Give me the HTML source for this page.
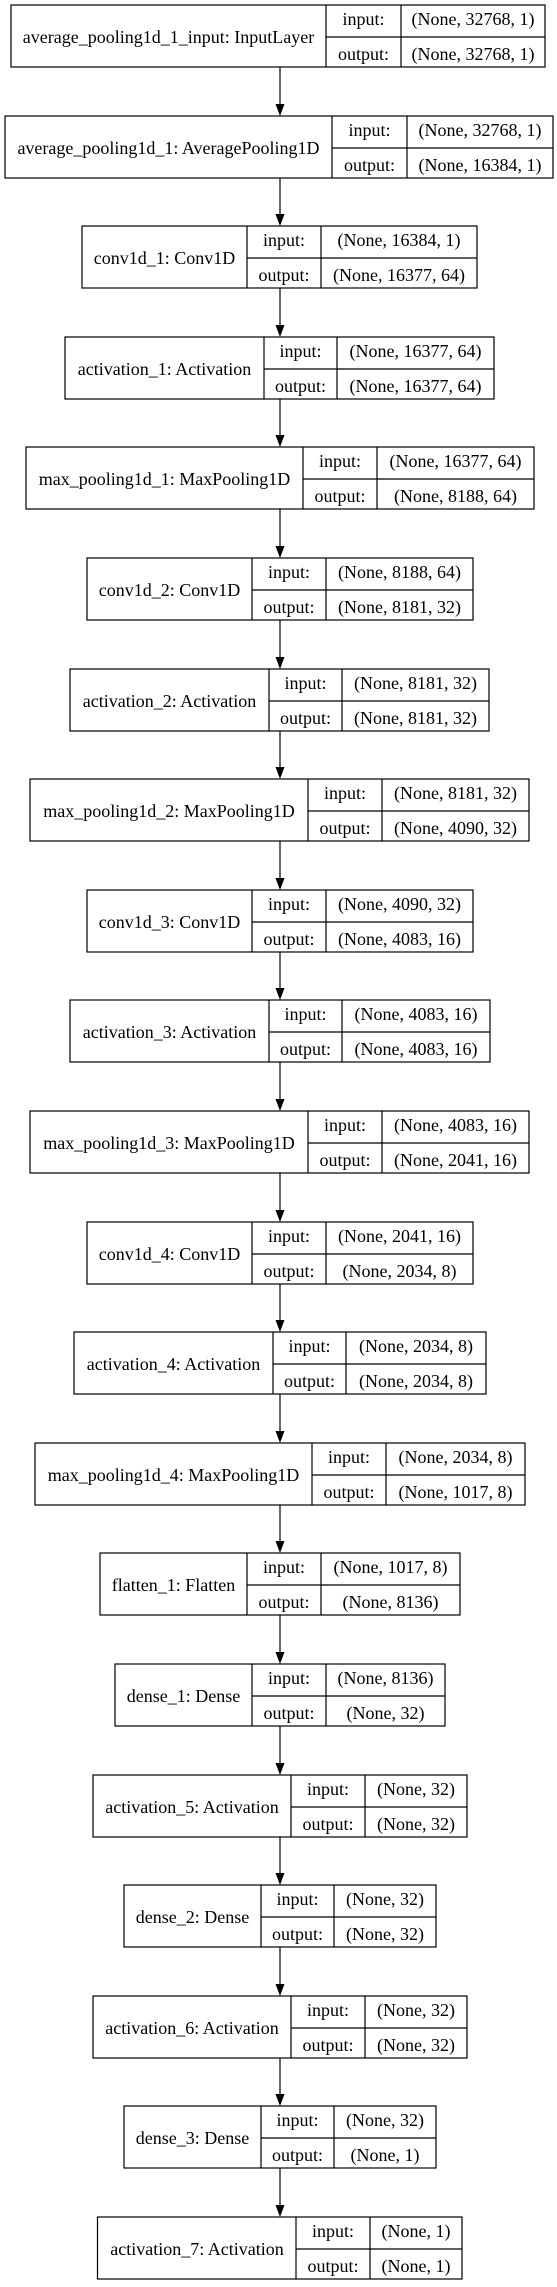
<!DOCTYPE html>
<html><head><meta charset="utf-8"><style>
html,body{margin:0;padding:0;background:#fff;}
svg{display:block;}
text{font-family:"Liberation Serif","DejaVu Serif",serif;font-size:18px;fill:#000;text-anchor:middle;}
.b{fill:#fff;stroke:#000;stroke-width:1.2;}
.l{stroke:#000;stroke-width:1.2;}
</style></head><body>
<svg width="557" height="2287" viewBox="0 0 557 2287" xmlns="http://www.w3.org/2000/svg">
<rect width="557" height="2287" fill="#fff"/>
<!-- arrows -->
<g class="l">
<line x1="280" y1="67" x2="280" y2="104"/><line x1="280" y1="178" x2="280" y2="214"/><line x1="280" y1="288" x2="280" y2="325"/><line x1="280" y1="399" x2="280" y2="435"/><line x1="280" y1="509" x2="280" y2="546"/><line x1="280" y1="620" x2="280" y2="657"/><line x1="280" y1="731" x2="280" y2="767"/><line x1="280" y1="841" x2="280" y2="878"/><line x1="280" y1="952" x2="280" y2="988"/><line x1="280" y1="1062" x2="280" y2="1099"/><line x1="280" y1="1173" x2="280" y2="1210"/><line x1="280" y1="1284" x2="280" y2="1320"/><line x1="280" y1="1394" x2="280" y2="1431"/><line x1="280" y1="1505" x2="280" y2="1541"/><line x1="280" y1="1615" x2="280" y2="1652"/><line x1="280" y1="1726" x2="280" y2="1763"/><line x1="280" y1="1837" x2="280" y2="1873"/><line x1="280" y1="1947" x2="280" y2="1984"/><line x1="280" y1="2058" x2="280" y2="2094"/><line x1="280" y1="2168" x2="280" y2="2205"/>
</g>
<g fill="#000">
<polygon points="275.5,104 284.5,104 280,116"/><polygon points="275.5,214 284.5,214 280,226"/><polygon points="275.5,325 284.5,325 280,337"/><polygon points="275.5,435 284.5,435 280,447"/><polygon points="275.5,546 284.5,546 280,558"/><polygon points="275.5,657 284.5,657 280,669"/><polygon points="275.5,767 284.5,767 280,779"/><polygon points="275.5,878 284.5,878 280,890"/><polygon points="275.5,988 284.5,988 280,1000"/><polygon points="275.5,1099 284.5,1099 280,1111"/><polygon points="275.5,1210 284.5,1210 280,1222"/><polygon points="275.5,1320 284.5,1320 280,1332"/><polygon points="275.5,1431 284.5,1431 280,1443"/><polygon points="275.5,1541 284.5,1541 280,1553"/><polygon points="275.5,1652 284.5,1652 280,1664"/><polygon points="275.5,1763 284.5,1763 280,1775"/><polygon points="275.5,1873 284.5,1873 280,1885"/><polygon points="275.5,1984 284.5,1984 280,1996"/><polygon points="275.5,2094 284.5,2094 280,2106"/><polygon points="275.5,2205 284.5,2205 280,2217"/>
</g>

<g transform="translate(0,5)"><rect class="b" x="11" y="0" width="534" height="62"/><line class="l" x1="326" y1="0" x2="326" y2="62"/><line class="l" x1="401" y1="0" x2="401" y2="62"/><line class="l" x1="326" y1="32" x2="545" y2="32"/>
<text x="168.5" y="38">average_pooling1d_1_input: InputLayer</text><text x="363.5" y="20">input:</text><text x="363.5" y="55">output:</text><text x="473" y="20">(None, 32768, 1)</text><text x="473" y="55">(None, 32768, 1)</text></g>

<g transform="translate(0,116)"><rect class="b" x="5" y="0" width="548" height="62"/><line class="l" x1="332" y1="0" x2="332" y2="62"/><line class="l" x1="407" y1="0" x2="407" y2="62"/><line class="l" x1="332" y1="32" x2="553" y2="32"/>
<text x="168.5" y="38">average_pooling1d_1: AveragePooling1D</text><text x="369.5" y="20">input:</text><text x="369.5" y="55">output:</text><text x="480" y="20">(None, 32768, 1)</text><text x="480" y="55">(None, 16384, 1)</text></g>

<g transform="translate(0,226)"><rect class="b" x="82" y="0" width="395" height="62"/><line class="l" x1="247" y1="0" x2="247" y2="62"/><line class="l" x1="321" y1="0" x2="321" y2="62"/><line class="l" x1="247" y1="32" x2="477" y2="32"/>
<text x="164.5" y="38">conv1d_1: Conv1D</text><text x="284" y="20">input:</text><text x="284" y="55">output:</text><text x="399" y="20">(None, 16384, 1)</text><text x="399" y="55">(None, 16377, 64)</text></g>

<g transform="translate(0,337)"><rect class="b" x="65" y="0" width="429" height="62"/><line class="l" x1="264" y1="0" x2="264" y2="62"/><line class="l" x1="337" y1="0" x2="337" y2="62"/><line class="l" x1="264" y1="32" x2="494" y2="32"/>
<text x="164.5" y="38">activation_1: Activation</text><text x="300.5" y="20">input:</text><text x="300.5" y="55">output:</text><text x="415.5" y="20">(None, 16377, 64)</text><text x="415.5" y="55">(None, 16377, 64)</text></g>

<g transform="translate(0,447)"><rect class="b" x="26" y="0" width="508" height="62"/><line class="l" x1="303" y1="0" x2="303" y2="62"/><line class="l" x1="377" y1="0" x2="377" y2="62"/><line class="l" x1="303" y1="32" x2="534" y2="32"/>
<text x="164.5" y="38">max_pooling1d_1: MaxPooling1D</text><text x="340" y="20">input:</text><text x="340" y="55">output:</text><text x="455.5" y="20">(None, 16377, 64)</text><text x="455.5" y="55">(None, 8188, 64)</text></g>

<g transform="translate(0,558)"><rect class="b" x="87" y="0" width="386" height="62"/><line class="l" x1="252" y1="0" x2="252" y2="62"/><line class="l" x1="326" y1="0" x2="326" y2="62"/><line class="l" x1="252" y1="32" x2="473" y2="32"/>
<text x="169.5" y="38">conv1d_2: Conv1D</text><text x="289" y="20">input:</text><text x="289" y="55">output:</text><text x="399.5" y="20">(None, 8188, 64)</text><text x="399.5" y="55">(None, 8181, 32)</text></g>

<g transform="translate(0,669)"><rect class="b" x="70" y="0" width="419" height="62"/><line class="l" x1="269" y1="0" x2="269" y2="62"/><line class="l" x1="342" y1="0" x2="342" y2="62"/><line class="l" x1="269" y1="32" x2="489" y2="32"/>
<text x="169.5" y="38">activation_2: Activation</text><text x="305.5" y="20">input:</text><text x="305.5" y="55">output:</text><text x="415.5" y="20">(None, 8181, 32)</text><text x="415.5" y="55">(None, 8181, 32)</text></g>

<g transform="translate(0,779)"><rect class="b" x="30" y="0" width="499" height="62"/><line class="l" x1="308" y1="0" x2="308" y2="62"/><line class="l" x1="382" y1="0" x2="382" y2="62"/><line class="l" x1="308" y1="32" x2="529" y2="32"/>
<text x="169" y="38">max_pooling1d_2: MaxPooling1D</text><text x="345" y="20">input:</text><text x="345" y="55">output:</text><text x="455.5" y="20">(None, 8181, 32)</text><text x="455.5" y="55">(None, 4090, 32)</text></g>

<g transform="translate(0,890)"><rect class="b" x="87" y="0" width="386" height="62"/><line class="l" x1="252" y1="0" x2="252" y2="62"/><line class="l" x1="326" y1="0" x2="326" y2="62"/><line class="l" x1="252" y1="32" x2="473" y2="32"/>
<text x="169.5" y="38">conv1d_3: Conv1D</text><text x="289" y="20">input:</text><text x="289" y="55">output:</text><text x="399.5" y="20">(None, 4090, 32)</text><text x="399.5" y="55">(None, 4083, 16)</text></g>

<g transform="translate(0,1000)"><rect class="b" x="70" y="0" width="420" height="62"/><line class="l" x1="269" y1="0" x2="269" y2="62"/><line class="l" x1="342" y1="0" x2="342" y2="62"/><line class="l" x1="269" y1="32" x2="490" y2="32"/>
<text x="169.5" y="38">activation_3: Activation</text><text x="305.5" y="20">input:</text><text x="305.5" y="55">output:</text><text x="416" y="20">(None, 4083, 16)</text><text x="416" y="55">(None, 4083, 16)</text></g>

<g transform="translate(0,1111)"><rect class="b" x="30" y="0" width="499" height="62"/><line class="l" x1="308" y1="0" x2="308" y2="62"/><line class="l" x1="382" y1="0" x2="382" y2="62"/><line class="l" x1="308" y1="32" x2="529" y2="32"/>
<text x="169" y="38">max_pooling1d_3: MaxPooling1D</text><text x="345" y="20">input:</text><text x="345" y="55">output:</text><text x="455.5" y="20">(None, 4083, 16)</text><text x="455.5" y="55">(None, 2041, 16)</text></g>

<g transform="translate(0,1222)"><rect class="b" x="87" y="0" width="386" height="62"/><line class="l" x1="252" y1="0" x2="252" y2="62"/><line class="l" x1="326" y1="0" x2="326" y2="62"/><line class="l" x1="252" y1="32" x2="473" y2="32"/>
<text x="169.5" y="38">conv1d_4: Conv1D</text><text x="289" y="20">input:</text><text x="289" y="55">output:</text><text x="399.5" y="20">(None, 2041, 16)</text><text x="399.5" y="55">(None, 2034, 8)</text></g>

<g transform="translate(0,1332)"><rect class="b" x="74" y="0" width="412" height="62"/><line class="l" x1="273" y1="0" x2="273" y2="62"/><line class="l" x1="346" y1="0" x2="346" y2="62"/><line class="l" x1="273" y1="32" x2="486" y2="32"/>
<text x="173.5" y="38">activation_4: Activation</text><text x="309.5" y="20">input:</text><text x="309.5" y="55">output:</text><text x="416" y="20">(None, 2034, 8)</text><text x="416" y="55">(None, 2034, 8)</text></g>

<g transform="translate(0,1443)"><rect class="b" x="35" y="0" width="490" height="62"/><line class="l" x1="312" y1="0" x2="312" y2="62"/><line class="l" x1="386" y1="0" x2="386" y2="62"/><line class="l" x1="312" y1="32" x2="525" y2="32"/>
<text x="173.5" y="38">max_pooling1d_4: MaxPooling1D</text><text x="349" y="20">input:</text><text x="349" y="55">output:</text><text x="455.5" y="20">(None, 2034, 8)</text><text x="455.5" y="55">(None, 1017, 8)</text></g>

<g transform="translate(0,1553)"><rect class="b" x="100" y="0" width="360" height="62"/><line class="l" x1="247" y1="0" x2="247" y2="62"/><line class="l" x1="321" y1="0" x2="321" y2="62"/><line class="l" x1="247" y1="32" x2="460" y2="32"/>
<text x="173.5" y="38">flatten_1: Flatten</text><text x="284" y="20">input:</text><text x="284" y="55">output:</text><text x="390.5" y="20">(None, 1017, 8)</text><text x="390.5" y="55">(None, 8136)</text></g>

<g transform="translate(0,1664)"><rect class="b" x="115" y="0" width="330" height="62"/><line class="l" x1="252" y1="0" x2="252" y2="62"/><line class="l" x1="326" y1="0" x2="326" y2="62"/><line class="l" x1="252" y1="32" x2="445" y2="32"/>
<text x="183.5" y="38">dense_1: Dense</text><text x="289" y="20">input:</text><text x="289" y="55">output:</text><text x="385.5" y="20">(None, 8136)</text><text x="385.5" y="55">(None, 32)</text></g>

<g transform="translate(0,1775)"><rect class="b" x="93" y="0" width="374" height="62"/><line class="l" x1="291" y1="0" x2="291" y2="62"/><line class="l" x1="365" y1="0" x2="365" y2="62"/><line class="l" x1="291" y1="32" x2="467" y2="32"/>
<text x="192" y="38">activation_5: Activation</text><text x="328" y="20">input:</text><text x="328" y="55">output:</text><text x="416" y="20">(None, 32)</text><text x="416" y="55">(None, 32)</text></g>

<g transform="translate(0,1885)"><rect class="b" x="124" y="0" width="312" height="62"/><line class="l" x1="261" y1="0" x2="261" y2="62"/><line class="l" x1="334" y1="0" x2="334" y2="62"/><line class="l" x1="261" y1="32" x2="436" y2="32"/>
<text x="192.5" y="38">dense_2: Dense</text><text x="297.5" y="20">input:</text><text x="297.5" y="55">output:</text><text x="385" y="20">(None, 32)</text><text x="385" y="55">(None, 32)</text></g>

<g transform="translate(0,1996)"><rect class="b" x="93" y="0" width="374" height="62"/><line class="l" x1="291" y1="0" x2="291" y2="62"/><line class="l" x1="365" y1="0" x2="365" y2="62"/><line class="l" x1="291" y1="32" x2="467" y2="32"/>
<text x="192" y="38">activation_6: Activation</text><text x="328" y="20">input:</text><text x="328" y="55">output:</text><text x="416" y="20">(None, 32)</text><text x="416" y="55">(None, 32)</text></g>

<g transform="translate(0,2106)"><rect class="b" x="124" y="0" width="312" height="62"/><line class="l" x1="261" y1="0" x2="261" y2="62"/><line class="l" x1="334" y1="0" x2="334" y2="62"/><line class="l" x1="261" y1="32" x2="436" y2="32"/>
<text x="192.5" y="38">dense_3: Dense</text><text x="297.5" y="20">input:</text><text x="297.5" y="55">output:</text><text x="385" y="20">(None, 32)</text><text x="385" y="55">(None, 1)</text></g>

<g transform="translate(0,2217)"><rect class="b" x="97.5" y="0" width="364.5" height="62"/><line class="l" x1="296" y1="0" x2="296" y2="62"/><line class="l" x1="370" y1="0" x2="370" y2="62"/><line class="l" x1="296" y1="32" x2="462" y2="32"/>
<text x="197" y="38">activation_7: Activation</text><text x="333" y="20">input:</text><text x="333" y="55">output:</text><text x="416" y="20">(None, 1)</text><text x="416" y="55">(None, 1)</text></g>
</svg>
</body></html>
